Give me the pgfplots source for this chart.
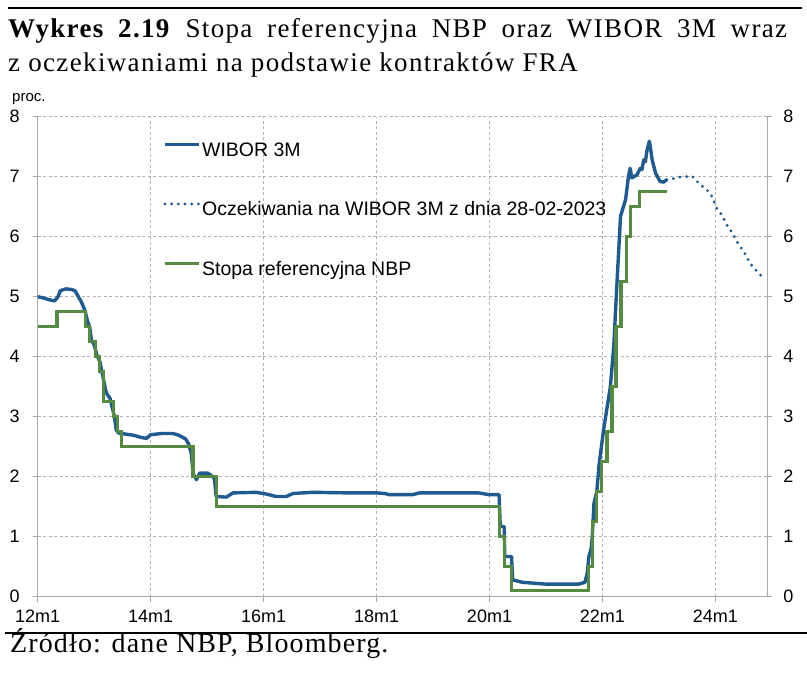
\documentclass[border=0pt]{standalone}
\usepackage{fontspec}
\setmainfont{Liberation Serif}
\setsansfont{Liberation Sans}
\usepackage{pgfplots}
\pgfplotsset{compat=1.18}
\definecolor{wibor}{RGB}{31,90,145}
\definecolor{nbp}{RGB}{84,139,64}
\definecolor{gridc}{RGB}{178,178,178}
\definecolor{axc}{RGB}{170,170,170}

\pgfplotstableread{
t v
2012.00 5.00
2012.10 4.98
2012.20 4.95
2012.30 4.93
2012.36 5.00
2012.40 5.10
2012.50 5.13
2012.60 5.12
2012.66 5.10
2012.72 5.00
2012.78 4.90
2012.84 4.76
2012.88 4.60
2012.92 4.50
2012.95 4.28
2013.00 4.20
2013.05 4.02
2013.10 3.92
2013.13 3.78
2013.17 3.60
2013.20 3.45
2013.23 3.37
2013.28 3.31
2013.32 3.15
2013.36 3.00
2013.39 2.78
2013.43 2.73
2013.55 2.71
2013.70 2.69
2013.85 2.65
2013.93 2.64
2014.00 2.70
2014.20 2.72
2014.40 2.72
2014.50 2.69
2014.62 2.63
2014.67 2.55
2014.72 2.39
2014.75 2.06
2014.81 1.95
2014.87 2.06
2015.01 2.06
2015.10 2.00
2015.13 1.96
2015.16 1.67
2015.34 1.66
2015.46 1.73
2015.87 1.74
2016.05 1.71
2016.22 1.67
2016.40 1.67
2016.52 1.72
2016.87 1.74
2017.50 1.73
2018.00 1.73
2018.15 1.72
2018.22 1.70
2018.64 1.70
2018.76 1.73
2019.81 1.73
2019.99 1.70
2020.17 1.70
2020.19 1.17
2020.26 1.17
2020.27 0.67
2020.39 0.67
2020.41 0.28
2020.58 0.24
2020.99 0.21
2021.58 0.21
2021.69 0.24
2021.73 0.39
2021.76 0.67
2021.80 0.80
2021.82 1.00
2021.85 1.56
2021.90 1.75
2021.94 2.20
2022.02 2.78
2022.14 3.50
2022.20 4.17
2022.23 4.73
2022.26 5.28
2022.32 6.34
2022.41 6.62
2022.46 7.00
2022.49 7.14
2022.52 6.98
2022.61 7.03
2022.67 7.14
2022.70 7.12
2022.73 7.28
2022.76 7.25
2022.79 7.45
2022.83 7.59
2022.85 7.48
2022.88 7.28
2022.94 7.06
2023.02 6.92
2023.08 6.91
2023.14 6.95
}\wibor

\pgfplotstableread{
t v
2023.14 6.95
2023.23 6.96
2023.33 6.99
2023.47 7.00
2023.58 7.01
2023.65 6.96
2023.70 6.89
2023.85 6.78
2023.94 6.67
2024.02 6.48
2024.11 6.37
2024.20 6.20
2024.30 6.06
2024.41 5.87
2024.50 5.76
2024.61 5.56
2024.70 5.46
2024.88 5.28
}\fra

\pgfplotstableread{
t v
2012.00 4.50
2012.34 4.75
2012.84 4.50
2012.92 4.25
2013.02 4.00
2013.09 3.75
2013.17 3.25
2013.34 3.00
2013.42 2.75
2013.48 2.50
2014.75 2.00
2015.16 1.50
2020.18 1.00
2020.26 0.50
2020.39 0.10
2021.75 0.50
2021.82 1.25
2021.90 1.75
2021.98 2.25
2022.08 2.75
2022.17 3.50
2022.24 4.50
2022.33 5.25
2022.42 6.00
2022.49 6.50
2022.66 6.75
2023.15 6.75
}\nbp

\begin{document}
\begin{tikzpicture}[x=1pt,y=1pt]
\useasboundingbox (-37.7,-77.3) rectangle (769.3,596.7);
% rules, title, source
\draw[line width=2.4pt] (-29.7,588.5) -- (764.3,588.5);
\draw[line width=2.4pt] (-32.7,-36.3) -- (769.3,-36.3);
\node[anchor=base west, inner sep=0pt, font=\fontsize{27}{30}\selectfont\addfontfeatures{LetterSpace=5}] at (-29.7,558.7)
  {\makebox[779pt][s]{\textbf{Wykres 2.19} Stopa referencyjna NBP oraz WIBOR 3M wraz}};
\node[anchor=base west, inner sep=0pt, font=\fontsize{27}{30}\selectfont\addfontfeatures{LetterSpace=5}] at (-29.7,524.7)
  {z oczekiwaniami na podstawie kontraktów FRA};
\node[anchor=base west, inner sep=0pt, font=\fontsize{28}{30}\selectfont\addfontfeatures{LetterSpace=4}] at (-27.7,-56.3)
  {Źródło: dane NBP, Bloomberg.};
\node[anchor=west, inner sep=0pt, font=\fontsize{15}{18}\sffamily] at (-25.7,497.7) {proc.};

\begin{axis}[
  at={(0,0)}, anchor=south west,
  scale only axis, width=729.5pt, height=480pt,
  xmin=2012, xmax=2024.917, ymin=0, ymax=8,
  axis x line*=bottom, axis y line*=left,
  axis line style={draw=axc, line width=1pt},
  xtick={2012,2014,2016,2018,2020,2022,2024},
  xticklabels={12m1,14m1,16m1,18m1,20m1,22m1,24m1},
  ytick={0,1,2,3,4,5,6,7,8},
  grid=major,
  major grid style={draw=gridc, line width=0.7pt, dash pattern=on 3pt off 2.5pt},
  tick align=outside, major tick length=5pt,
  tick style={draw=axc, line width=0.8pt},
  /pgf/number format/assume math mode=true,
  ticklabel style={font=\fontsize{18}{20}\sffamily, inner sep=0pt},
  xticklabel style={anchor=base, yshift=-21.3pt},
  yticklabel style={anchor=east, xshift=-12.8pt},
  legend cell align=left,
  legend style={draw=none, fill=none, at={(0.1718,0.9473)}, anchor=north west,
    inner sep=0pt, row sep=41pt,
    font=\fontsize{19.5}{22}\sffamily,
    nodes={inner sep=0pt, text height=14pt, text depth=4.5pt},
    /tikz/every odd column/.append style={column sep=1.5pt}},
  legend image code/.code={\draw[#1] (0pt,7pt) -- (34pt,7pt);},
]
\addplot[wibor, line width=3.4pt, line join=round] table[x=t,y=v] {\wibor};
\addlegendentry{WIBOR 3M}
\addplot[wibor, line width=3.2pt, line cap=round, dash pattern=on 0pt off 6.7pt] table[x=t,y=v] {\fra};
\addlegendentry{Oczekiwania na WIBOR 3M z dnia 28-02-2023}
\addplot[nbp, line width=3.2pt, const plot mark left] table[x=t,y=v] {\nbp};
\addlegendentry{Stopa referencyjna NBP}
\end{axis}

\begin{axis}[
  at={(0,0)}, anchor=south west,
  scale only axis, width=729.5pt, height=480pt,
  xmin=2012, xmax=2024.917, ymin=0, ymax=8,
  axis x line=none, axis y line*=right,
  axis line style={draw=axc, line width=1pt},
  ytick={0,1,2,3,4,5,6,7,8},
  tick align=outside, major tick length=5pt,
  tick style={draw=axc, line width=0.8pt},
  /pgf/number format/assume math mode=true,
  yticklabel style={font=\fontsize{18}{20}\sffamily, inner sep=0pt, anchor=west, xshift=11pt},
]
\end{axis}
\end{tikzpicture}
\end{document}
